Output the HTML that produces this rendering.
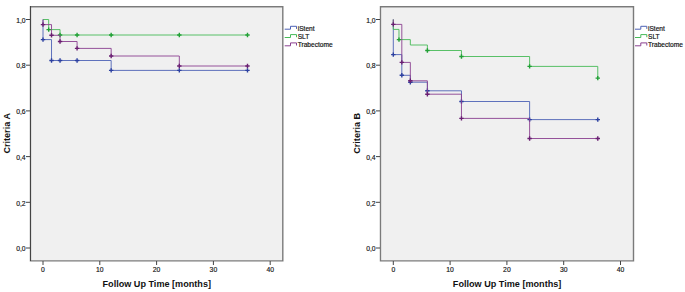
<!DOCTYPE html>
<html><head><meta charset="utf-8"><style>
html,body{margin:0;padding:0;background:#fff;}
body{width:685px;height:292px;overflow:hidden;}
svg{display:block;}
text{font-family:"Liberation Sans",sans-serif;fill:#222;}
.tk{font-size:6.8px;fill:#111;stroke:#111;stroke-width:0.15px;}
.lg{font-size:6.6px;fill:#111;stroke:#111;stroke-width:0.18px;}
.ttl{font-size:9.1px;font-weight:bold;fill:#111;}
</style></head><body>
<svg width="685" height="292" viewBox="0 0 685 292">
<rect width="685" height="292" fill="#fff"/>
<rect x="30" y="6" width="252.3" height="254" fill="#f0f0f0"/>
<path d="M31.5 260V7.5H281.8" fill="none" stroke="#f8f8f8" stroke-width="1"/>
<path d="M30.5 260.9V6.7H282.8V260.9Z" fill="none" stroke="#7a7a7a" stroke-width="1.4"/>
<path d="M30.5 6V261" fill="none" stroke="#444" stroke-width="1"/>
<path d="M26 19.5H30" stroke="#444" stroke-width="1"/>
<text x="25.6" y="22.7" class="tk" text-anchor="end">1,0</text>
<path d="M26 65.2H30" stroke="#444" stroke-width="1"/>
<text x="25.6" y="68.4" class="tk" text-anchor="end">0,8</text>
<path d="M26 110.9H30" stroke="#444" stroke-width="1"/>
<text x="25.6" y="114.1" class="tk" text-anchor="end">0,6</text>
<path d="M26 156.6H30" stroke="#444" stroke-width="1"/>
<text x="25.6" y="159.8" class="tk" text-anchor="end">0,4</text>
<path d="M26 202.3H30" stroke="#444" stroke-width="1"/>
<text x="25.6" y="205.5" class="tk" text-anchor="end">0,2</text>
<path d="M26 248H30" stroke="#444" stroke-width="1"/>
<text x="25.6" y="251.2" class="tk" text-anchor="end">0,0</text>
<path d="M43 261V265" stroke="#444" stroke-width="1"/>
<text x="43" y="272" class="tk" text-anchor="middle">0</text>
<path d="M99.8 261V265" stroke="#444" stroke-width="1"/>
<text x="99.8" y="272" class="tk" text-anchor="middle">10</text>
<path d="M156.6 261V265" stroke="#444" stroke-width="1"/>
<text x="156.6" y="272" class="tk" text-anchor="middle">20</text>
<path d="M213.4 261V265" stroke="#444" stroke-width="1"/>
<text x="213.4" y="272" class="tk" text-anchor="middle">30</text>
<path d="M270.2 261V265" stroke="#444" stroke-width="1"/>
<text x="270.2" y="272" class="tk" text-anchor="middle">40</text>
<text x="156.75" y="287.4" class="ttl" text-anchor="middle">Follow Up Time [months]</text>
<text transform="translate(9.5 133.3) rotate(-90)" class="ttl" text-anchor="middle">Criteria A</text>
<path d="M43 19.5H43V39.6H51.52V60.5H111.16V70.4H247.48V70.4" fill="none" stroke="#4d62b6" stroke-width="0.9"/>
<path d="M40.8 39.6h4.4M43 37.4v4.4M49.32 60.5h4.4M51.52 58.3v4.4M57.84 60.5h4.4M60.04 58.3v4.4M74.88 60.5h4.4M77.08 58.3v4.4M108.96 70.4h4.4M111.16 68.2v4.4M177.12 70.4h4.4M179.32 68.2v4.4M245.28 70.4h4.4M247.48 68.2v4.4" fill="none" stroke="#2c40a0" stroke-width="1.4"/>
<path d="M43 19.5H48.68V29.6H60.04V35H247.48V35" fill="none" stroke="#46ba57" stroke-width="0.9"/>
<path d="M46.48 29.6h4.4M48.68 27.4v4.4M57.84 35h4.4M60.04 32.8v4.4M74.88 35h4.4M77.08 32.8v4.4M108.96 35h4.4M111.16 32.8v4.4M177.12 35h4.4M179.32 32.8v4.4M245.28 35h4.4M247.48 32.8v4.4" fill="none" stroke="#22a036" stroke-width="1.4"/>
<path d="M43 19.5H43V24.6H51.52V35.3H60.04V41.5H77.08V48.4H111.16V56H179.32V66H247.48V66" fill="none" stroke="#8a4090" stroke-width="0.9"/>
<path d="M40.8 24.6h4.4M43 22.4v4.4M49.32 35.3h4.4M51.52 33.1v4.4M57.84 41.5h4.4M60.04 39.3v4.4M74.88 48.4h4.4M77.08 46.2v4.4M108.96 56h4.4M111.16 53.8v4.4M177.12 66h4.4M179.32 63.8v4.4M245.28 66h4.4M247.48 63.8v4.4" fill="none" stroke="#6a1f72" stroke-width="1.4"/>
<path d="M284.7 29.2H290.5V26.3H296.5V28.9" fill="none" stroke="#4d62b6" stroke-width="1"/>
<text x="297.7" y="30.8" class="lg">iStent</text>
<path d="M284.7 37.5H290.5V34.6H296.5V37.2" fill="none" stroke="#46ba57" stroke-width="1"/>
<text x="297.7" y="39" class="lg">SLT</text>
<path d="M284.7 45.8H290.5V42.9H296.5V45.5" fill="none" stroke="#8a4090" stroke-width="1"/>
<text x="297.7" y="47.2" class="lg">Trabectome</text>
<rect x="380" y="6" width="253" height="254" fill="#f0f0f0"/>
<path d="M381.5 260V7.5H632.5" fill="none" stroke="#f8f8f8" stroke-width="1"/>
<path d="M380.5 260.9V6.7H633.5V260.9Z" fill="none" stroke="#7a7a7a" stroke-width="1.4"/>
<path d="M380.5 6V261" fill="none" stroke="#7a7a7a" stroke-width="1"/>
<path d="M376 19.5H380" stroke="#444" stroke-width="1"/>
<text x="375.6" y="22.7" class="tk" text-anchor="end">1,0</text>
<path d="M376 65.2H380" stroke="#444" stroke-width="1"/>
<text x="375.6" y="68.4" class="tk" text-anchor="end">0,8</text>
<path d="M376 110.9H380" stroke="#444" stroke-width="1"/>
<text x="375.6" y="114.1" class="tk" text-anchor="end">0,6</text>
<path d="M376 156.6H380" stroke="#444" stroke-width="1"/>
<text x="375.6" y="159.8" class="tk" text-anchor="end">0,4</text>
<path d="M376 202.3H380" stroke="#444" stroke-width="1"/>
<text x="375.6" y="205.5" class="tk" text-anchor="end">0,2</text>
<path d="M376 248H380" stroke="#444" stroke-width="1"/>
<text x="375.6" y="251.2" class="tk" text-anchor="end">0,0</text>
<path d="M393.3 261V265" stroke="#444" stroke-width="1"/>
<text x="393.3" y="272" class="tk" text-anchor="middle">0</text>
<path d="M450.1 261V265" stroke="#444" stroke-width="1"/>
<text x="450.1" y="272" class="tk" text-anchor="middle">10</text>
<path d="M506.9 261V265" stroke="#444" stroke-width="1"/>
<text x="506.9" y="272" class="tk" text-anchor="middle">20</text>
<path d="M563.7 261V265" stroke="#444" stroke-width="1"/>
<text x="563.7" y="272" class="tk" text-anchor="middle">30</text>
<path d="M620.5 261V265" stroke="#444" stroke-width="1"/>
<text x="620.5" y="272" class="tk" text-anchor="middle">40</text>
<text x="507.1" y="287.4" class="ttl" text-anchor="middle">Follow Up Time [months]</text>
<text transform="translate(359.5 133.3) rotate(-90)" class="ttl" text-anchor="middle">Criteria B</text>
<path d="M393.3 19.5H393.3V54.6H401.82V75.3H410.34V82.2H427.38V90.8H461.46V101.5H529.62V119.6H597.78V119.6" fill="none" stroke="#4d62b6" stroke-width="0.9"/>
<path d="M391.1 54.6h4.4M393.3 52.4v4.4M399.62 75.3h4.4M401.82 73.1v4.4M408.14 82.2h4.4M410.34 80v4.4M425.18 90.8h4.4M427.38 88.6v4.4M459.26 101.5h4.4M461.46 99.3v4.4M527.42 119.6h4.4M529.62 117.4v4.4M595.58 119.6h4.4M597.78 117.4v4.4" fill="none" stroke="#2c40a0" stroke-width="1.4"/>
<path d="M393.3 19.5H393.3V29.4H398.98V39.6H410.34V45H427.38V50.5H461.46V56.5H529.62V66.4H597.78V78.1" fill="none" stroke="#46ba57" stroke-width="0.9"/>
<path d="M396.78 39.6h4.4M398.98 37.4v4.4M425.18 50.5h4.4M427.38 48.3v4.4M459.26 56.5h4.4M461.46 54.3v4.4M527.42 66.4h4.4M529.62 64.2v4.4M595.58 78.1h4.4M597.78 75.9v4.4" fill="none" stroke="#22a036" stroke-width="1.4"/>
<path d="M393.3 19.5H393.3V24.4H401.82V62.4H410.34V80.8H427.38V94.2H461.46V118.4H529.62V138.5H597.78V138.5" fill="none" stroke="#8a4090" stroke-width="0.9"/>
<path d="M391.1 24.4h4.4M393.3 22.2v4.4M399.62 62.4h4.4M401.82 60.2v4.4M408.14 80.8h4.4M410.34 78.6v4.4M425.18 94.2h4.4M427.38 92v4.4M459.26 118.4h4.4M461.46 116.2v4.4M527.42 138.5h4.4M529.62 136.3v4.4M595.58 138.5h4.4M597.78 136.3v4.4" fill="none" stroke="#6a1f72" stroke-width="1.4"/>
<path d="M635 29.2H640.8V26.3H646.8V28.9" fill="none" stroke="#4d62b6" stroke-width="1"/>
<text x="648" y="30.8" class="lg">iStent</text>
<path d="M635 37.5H640.8V34.6H646.8V37.2" fill="none" stroke="#46ba57" stroke-width="1"/>
<text x="648" y="39" class="lg">SLT</text>
<path d="M635 45.8H640.8V42.9H646.8V45.5" fill="none" stroke="#8a4090" stroke-width="1"/>
<text x="648" y="47.2" class="lg">Trabectome</text>
</svg>
</body></html>
